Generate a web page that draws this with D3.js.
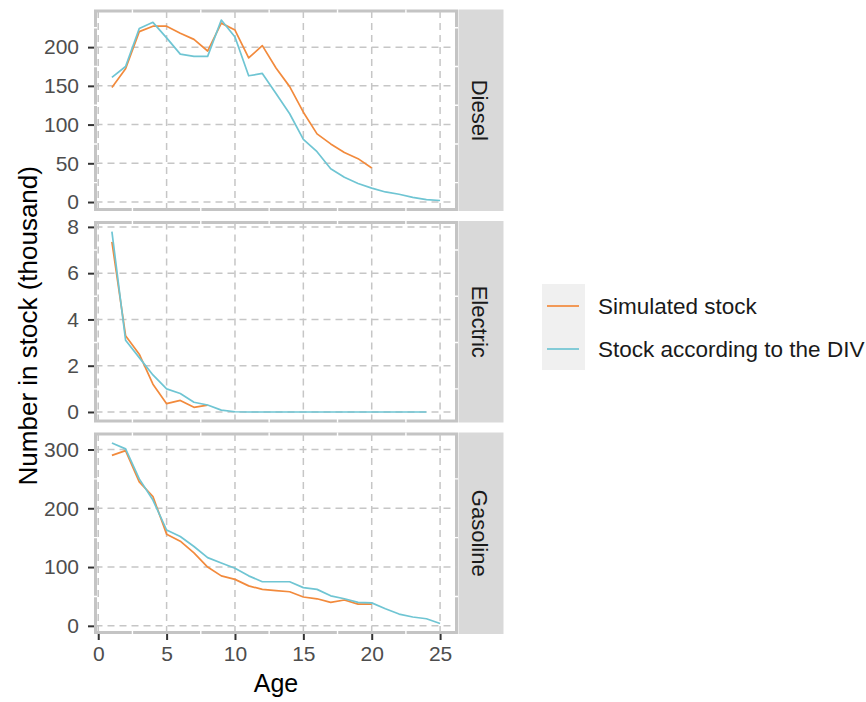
<!DOCTYPE html>
<html>
<head>
<meta charset="utf-8">
<script src="https://cdn.jsdelivr.net/npm/d3@7"></script>
<style>
  html, body { margin: 0; padding: 0; background: #ffffff; }
  svg { display: block; font-family: "Liberation Sans", Arial, sans-serif; }
</style>
</head>
<body>
<svg id="chart" width="866" height="702"></svg>
<script>
// Vehicle stock by age (thousands), per fuel type
const fuels = ["Diesel", "Electric", "Gasoline"];
const seriesNames = ["Simulated stock", "Stock according to the DIV"];
const seriesColors = ["#F28A3C", "#6FC5D3"];

const dieselSimulated = [148, 172, 220, 227, 227, 218, 210, 195, 231, 222, 186, 202, 173, 149, 116, 88, 75, 64, 56, 44];
const dieselDIV = [161, 175, 224, 232, 212, 191, 188, 188, 235, 213, 163, 166, 140, 114, 81, 65, 43, 32, 24, 18, 13, 10, 6, 3, 2];

const electricSimulated = [7.35, 3.3, 2.5, 1.2, 0.36, 0.5, 0.2, 0.3];
const electricDIV = [7.8, 3.1, 2.35, 1.6, 1.0, 0.8, 0.42, 0.3, 0.08, 0.01, 0, 0, 0, 0, 0, 0, 0, 0, 0, 0, 0, 0, 0, 0];

const gasolineSimulated = [290, 298, 245, 220, 156, 144, 124, 100, 85, 79, 68, 62, 60, 58, 49, 46, 40, 44, 37, 37];
const gasolineDIV = [311, 301, 250, 214, 163, 152, 135, 116, 107, 98, 85, 75, 75, 75, 65, 62, 51, 46, 40, 39, 29, 20, 15, 12, 4];

const xTicks = [0, 5, 10, 15, 20, 25];
const xMinor = [2.5, 7.5, 12.5, 17.5, 22.5];
const dieselTicks = [0, 50, 100, 150, 200];
const electricTicks = [0, 2, 4, 6, 8];
const gasolineTicks = [0, 100, 200, 300];

const panelData = [
  { fuel: fuels[0], series: [dieselSimulated, dieselDIV], ticks: dieselTicks },
  { fuel: fuels[1], series: [electricSimulated, electricDIV], ticks: electricTicks },
  { fuel: fuels[2], series: [gasolineSimulated, gasolineDIV], ticks: gasolineTicks }
];

// Layout
const svg = d3.select("#chart");
const panelLeft = 95.5, panelRight = 456.5;
const panelTops = [11, 222.5, 434];
const panelH = 198.5;
const stripW = 45, stripGap = 0.5;

const tickColor = "#333333";
const textGrey = "#4d4d4d";
const borderColor = "#c4c4c4";
const gridColor = "#c6c6c6";
const tickFont = 21;

// Shared x scale with 5% expansion around ages 1..25
const allAges = panelData.flatMap(p => p.series.flatMap(s => s.map((v, i) => i + 1)));
const xExt = d3.extent(allAges);
const xPad = (xExt[1] - xExt[0]) * 0.05;
const x = d3.scaleLinear().domain([xExt[0] - xPad, xExt[1] + xPad]).range([panelLeft, panelRight]);

panelData.forEach((p, pi) => {
  const top = panelTops[pi], bottom = top + panelH;
  const vals = p.series.flat();
  const yExt = d3.extent(vals);
  const yPad = (yExt[1] - yExt[0]) * 0.05;
  const y = d3.scaleLinear().domain([yExt[0] - yPad, yExt[1] + yPad]).range([bottom, top]);
  const yMinor = d3.pairs(p.ticks).map(([a, b]) => (a + b) / 2)
    .concat([p.ticks[p.ticks.length - 1] + (p.ticks[1] - p.ticks[0]) / 2])
    .filter(v => y(v) > top && y(v) < bottom);

  const g = svg.append("g");

  // Panel background with grey outline
  g.append("rect")
    .attr("x", panelLeft).attr("y", top)
    .attr("width", panelRight - panelLeft).attr("height", panelH)
    .attr("fill", "#ffffff").attr("stroke", borderColor).attr("stroke-width", 3);

  // Minor grid (white)
  g.selectAll(".minx").data(xMinor).join("line")
    .attr("x1", d => x(d)).attr("x2", d => x(d))
    .attr("y1", top - 1.6).attr("y2", bottom + 1.6)
    .attr("stroke", "#ffffff").attr("stroke-width", 1.4);
  g.selectAll(".miny").data(yMinor).join("line")
    .attr("y1", d => y(d)).attr("y2", d => y(d))
    .attr("x1", panelLeft - 1.6).attr("x2", panelRight + 1.6)
    .attr("stroke", "#ffffff").attr("stroke-width", 1.4);

  // Major grid (dashed grey)
  g.selectAll(".majx").data(xTicks).join("line")
    .attr("x1", d => x(d)).attr("x2", d => x(d))
    .attr("y1", top).attr("y2", bottom)
    .attr("stroke", gridColor).attr("stroke-width", 1.5)
    .attr("stroke-dasharray", "7,5");
  g.selectAll(".majy").data(p.ticks).join("line")
    .attr("y1", d => y(d)).attr("y2", d => y(d))
    .attr("x1", panelLeft).attr("x2", panelRight)
    .attr("stroke", gridColor).attr("stroke-width", 1.5)
    .attr("stroke-dasharray", "7,5");

  // Data lines
  const line = d3.line().x((d, i) => x(i + 1)).y(d => y(d));
  p.series.forEach((s, si) => {
    g.append("path").datum(s)
      .attr("d", line)
      .attr("fill", "none")
      .attr("stroke", seriesColors[si])
      .attr("stroke-width", 1.7)
      .attr("stroke-linejoin", "round");
  });

  // Y axis
  const yAxis = d3.axisLeft(y).tickValues(p.ticks).tickSize(6).tickPadding(9);
  const ya = g.append("g").attr("transform", `translate(${panelLeft - 1.5},0)`).call(yAxis);
  ya.select(".domain").remove();
  ya.selectAll(".tick line").attr("stroke", tickColor).attr("stroke-width", 2);
  ya.selectAll(".tick text").attr("fill", textGrey).attr("font-size", tickFont)
    .attr("font-family", "Liberation Sans, Arial, sans-serif");

  // Strip on the right
  const stripX = panelRight + 1.5 + stripGap;
  g.append("rect")
    .attr("x", stripX).attr("y", top - 1.5)
    .attr("width", stripW).attr("height", panelH + 3)
    .attr("fill", "#d9d9d9");
  g.append("text")
    .attr("transform", `translate(${stripX + stripW / 2 - 1},${top + panelH / 2}) rotate(90)`)
    .attr("text-anchor", "middle").attr("dy", "0.35em")
    .attr("font-size", 22).attr("fill", "#1a1a1a")
    .text(p.fuel);

  // X axis under last panel
  if (pi === panelData.length - 1) {
    const xAxis = d3.axisBottom(x).tickValues(xTicks).tickSize(6).tickPadding(6);
    const xa = g.append("g").attr("transform", `translate(0,${bottom + 1.5})`).call(xAxis);
    xa.select(".domain").remove();
    xa.selectAll(".tick line").attr("stroke", tickColor).attr("stroke-width", 2);
    xa.selectAll(".tick text").attr("fill", textGrey).attr("font-size", tickFont)
      .attr("font-family", "Liberation Sans, Arial, sans-serif");
  }
});

// Axis titles
svg.append("text")
  .attr("x", (panelLeft + panelRight) / 2).attr("y", 692)
  .attr("text-anchor", "middle").attr("font-size", 25).attr("fill", "#000")
  .text("Age");
svg.append("text")
  .attr("transform", `translate(37,${(panelTops[0] + panelTops[2] + panelH) / 2 + 4}) rotate(-90)`)
  .attr("text-anchor", "middle").attr("font-size", 26).attr("fill", "#000")
  .text("Number in stock (thousand)");

// Legend
const legend = svg.append("g").attr("transform", "translate(542,284)");
legend.append("rect").attr("x", 0).attr("y", 0).attr("width", 43).attr("height", 86)
  .attr("fill", "#f0f0f0");
seriesNames.forEach((name, i) => {
  const cy = 22 + i * 43;
  legend.append("line")
    .attr("x1", 5).attr("x2", 37).attr("y1", cy).attr("y2", cy)
    .attr("stroke", seriesColors[i]).attr("stroke-width", 1.7);
  legend.append("text")
    .attr("x", 56).attr("y", cy).attr("dy", "0.35em")
    .attr("font-size", 22.5).attr("fill", "#1a1a1a")
    .text(name);
});
</script>
</body>
</html>
